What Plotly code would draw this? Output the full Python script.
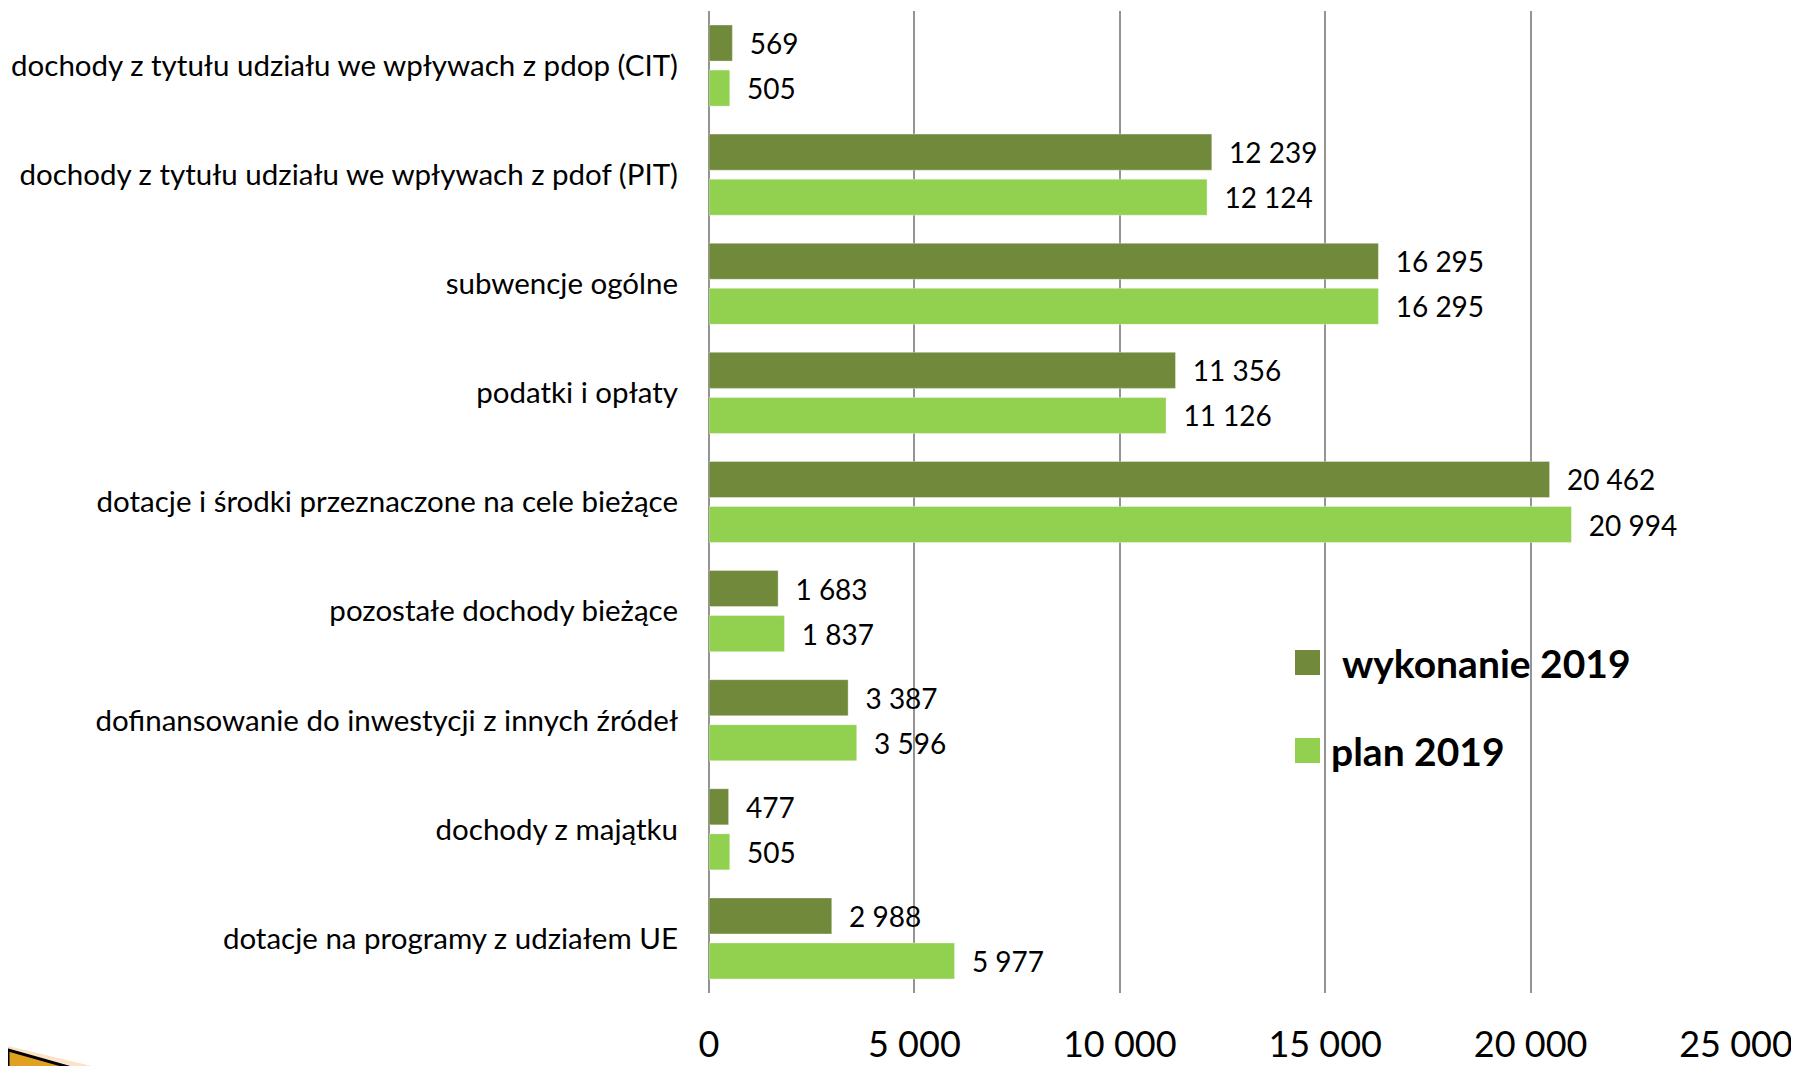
import plotly.graph_objects as go

categories = [
    "dochody z tytułu udziału we wpływach z pdop (CIT)",
    "dochody z tytułu udziału we wpływach z pdof (PIT)",
    "subwencje ogólne",
    "podatki i opłaty",
    "dotacje i środki przeznaczone na cele bieżące",
    "pozostałe dochody bieżące",
    "dofinansowanie do inwestycji z innych źródeł",
    "dochody z majątku",
    "dotacje na programy z udziałem UE",
]
wykonanie_2019 = [569, 12239, 16295, 11356, 20462, 1683, 3387, 477, 2988]
plan_2019 = [505, 12124, 16295, 11126, 20994, 1837, 3596, 505, 5977]
series_names = ["wykonanie 2019", "plan 2019"]
tick_values = [0, 5000, 10000, 15000, 20000, 25000]

DARK = "#71893b"
LIGHT = "#92d050"
FONT = "Lato"

# the page body has an 8px margin; the figure is sized to fill the window exactly
OFF = 8
W, H = 1799 - OFF, 1066 - OFF
L, T = 709 - OFF, 11 - OFF
R = W - (1736 - OFF)
B = H - (993 - OFF)
PW, PH = W - L - R, H - T - B


def px(x):
    # x in window pixels -> paper
    return (x - OFF - L) / PW


def py(y):
    return 1 - (y - OFF - T) / PH


fig = go.Figure()
for name, vals, col in [(series_names[0], wykonanie_2019, DARK), (series_names[1], plan_2019, LIGHT)]:
    fig.add_trace(go.Bar(
        y=categories, x=vals, orientation="h", name=name,
        marker=dict(color=col, line=dict(color="rgba(255,255,255,0.35)", width=1)),
        texttemplate="\u00a0\u00a0%{x:,d}", textposition="outside",
        textfont=dict(family=FONT, size=28, color="#000000"),
        constraintext="none", cliponaxis=False, showlegend=False,
    ))

shapes = []
annotations = []
# legend drawn manually
leg = [
    (series_names[0], DARK, 650, 675, 1340),
    (series_names[1], LIGHT, 738, 763, 1329),
]
for name, col, y0, y1, tx in leg:
    shapes.append(dict(type="rect", xref="paper", yref="paper",
                       x0=px(1295), x1=px(1320), y0=py(y1), y1=py(y0),
                       fillcolor=col, line=dict(width=0)))
    annotations.append(dict(xref="paper", yref="paper", x=px(tx), y=py((y0 + y1) / 2),
                            xanchor="left", yanchor="middle", showarrow=False,
                            text="<b>" + name + "</b>",
                            font=dict(family=FONT, size=39, color="#000000")))

# decorative corner shape (bottom-left)
shapes.append(dict(type="path", xref="paper", yref="paper",
                   path=f"M {px(80)},{py(1068)} L {px(100)},{py(1068)} L {px(8)},{py(1046)} L {px(8)},{py(1049)} Z",
                   fillcolor="#fbe3c8", line=dict(width=0), layer="above"))
shapes.append(dict(type="path", xref="paper", yref="paper",
                   path=f"M {px(8)},{py(1050)} L {px(72)},{py(1068)} L {px(8)},{py(1068)} Z",
                   fillcolor="#e0a020", line=dict(color="#000000", width=3), layer="above"))

fig.update_layout(
    width=W, height=H,
    margin=dict(l=L, r=R, t=T, b=B, pad=0, autoexpand=False),
    plot_bgcolor="white", paper_bgcolor="white",
    barmode="group", bargap=0.174, bargroupgap=0.2,
    separators=", ",
    font=dict(family=FONT, color="#000000"),
    shapes=shapes, annotations=annotations,
    xaxis=dict(range=[0, 25000], tickvals=tick_values, tickformat=",d",
               showgrid=True, gridcolor="#949494", gridwidth=2,
               zeroline=True, zerolinecolor="#949494", zerolinewidth=2,
               showline=False, ticks="", ticklabelstandoff=27, automargin=False,
               tickfont=dict(family=FONT, size=36, color="#000000")),
    yaxis=dict(autorange="reversed", showgrid=False, showline=False, ticks="",
               ticklabelstandoff=30, automargin=False,
               tickfont=dict(family=FONT, size=29.5, color="#000000")),
)

fig.write_html("out.html")
